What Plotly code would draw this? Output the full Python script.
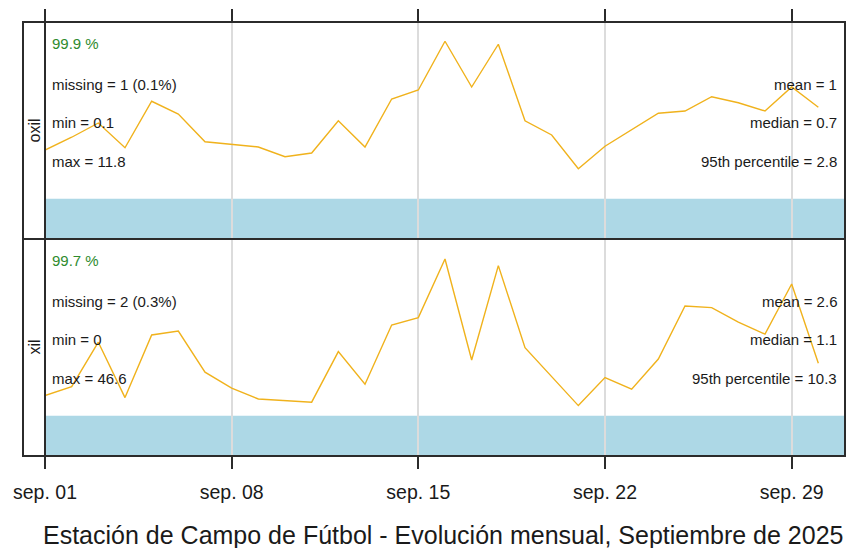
import pandas as pd
import plotly.graph_objects as go

dates = pd.date_range("2025-09-01", "2025-09-30", freq="D")

oxil = [0.74, 0.91, 1.10, 0.77, 1.39, 1.22, 0.85, 0.81, 0.78, 0.65,
        0.70, 1.13, 0.78, 1.42, 1.54, 2.19, 1.58, 2.15, 1.13, 0.94,
        0.49, 0.79, 1.01, 1.23, 1.26, 1.45, 1.37, 1.26, 1.58, 1.31]
xil = [1.22, 1.67, 3.89, 1.12, 4.25, 4.45, 2.39, 1.59, 1.05, 0.97,
       0.89, 3.42, 1.79, 4.75, 5.12, 8.05, 3.00, 7.72, 3.62, 2.17,
       0.72, 2.12, 1.54, 3.05, 5.70, 5.62, 4.89, 4.29, 6.80, 2.84]

panels = ["oxil", "xil"]
capture = ["99.9 %", "99.7 %"]
left_stats = [["missing = 1 (0.1%)", "min = 0.1", "max = 11.8"],
              ["missing = 2 (0.3%)", "min = 0", "max = 46.6"]]
right_stats = [["mean = 1", "median = 0.7", "95th percentile = 2.8"],
               ["mean = 2.6", "median = 1.1", "95th percentile = 10.3"]]

tick_dates = ["2025-09-01", "2025-09-08", "2025-09-15", "2025-09-22", "2025-09-29"]
tick_text = ["sep. 01", "sep. 08", "sep. 15", "sep. 22", "sep. 29"]
title = "Estación de Campo de Fútbol - Evolución mensual, Septiembre de 2025"

FONT = "Liberation Sans, Arial, sans-serif"
LINE = "#F0B21C"
BAR = "#ADD8E6"
FRAME = "#2b2b2b"
GREEN = "#2E8B2E"
TXT = "#1a1a1a"

fig = go.Figure()
fig.add_trace(go.Scatter(x=dates, y=oxil, mode="lines", line=dict(color=LINE, width=1.4),
                         xaxis="x", yaxis="y", showlegend=False, hoverinfo="skip"))
fig.add_trace(go.Scatter(x=dates, y=xil, mode="lines", line=dict(color=LINE, width=1.4),
                         xaxis="x2", yaxis="y2", showlegend=False, hoverinfo="skip"))

xcommon = dict(type="date", range=["2025-09-01", "2025-10-01"], tickvals=tick_dates,
               ticktext=tick_text, showgrid=True, gridcolor="#dcdcdc", gridwidth=1.5,
               ticks="outside", ticklen=12, tickwidth=1.5, tickcolor=FRAME,
               zeroline=False, showline=False)
fig.update_layout(
    width=854, height=549,
    margin=dict(l=45, r=9, t=22, b=93),
    paper_bgcolor="white", plot_bgcolor="white",
    font=dict(family=FONT, color=TXT),
    xaxis=dict(**xcommon, domain=[0, 1], anchor="y", side="top", showticklabels=False),
    xaxis2=dict(**xcommon, domain=[0, 1], anchor="y2", matches="x", showticklabels=True,
                tickfont=dict(size=19.5, color=TXT), ticklabelstandoff=7),
    yaxis=dict(domain=[0.5, 1], range=[-0.4467, 2.4467], showgrid=False, showticklabels=False,
               ticks="", zeroline=False, anchor="x"),
    yaxis2=dict(domain=[0, 0.5], range=[-1.8, 9.05], showgrid=False, showticklabels=False,
                ticks="", zeroline=False, anchor="x2"),
)

shapes = []
annotations = []
for i, (xr, yr) in enumerate([("x", "y"), ("x2", "y2")]):
    shapes.append(dict(type="rect", xref=xr, yref=f"{yr} domain", x0=dates[0],
                       x1="2025-10-01", y0=0, y1=0.185, fillcolor=BAR, line=dict(width=0),
                       layer="below"))
    annotations.append(dict(xref=f"{xr} domain", yref=f"{yr} domain", x=0.006, y=0.9,
                            text=capture[i], showarrow=False, xanchor="left", yanchor="middle",
                            font=dict(size=15, color=GREEN)))
    for t, yy in zip(left_stats[i], [0.714, 0.535, 0.355]):
        annotations.append(dict(xref=f"{xr} domain", yref=f"{yr} domain", x=0.006, y=yy,
                                text=t, showarrow=False, xanchor="left", yanchor="middle",
                                font=dict(size=15)))
    for t, yy in zip(right_stats[i], [0.714, 0.535, 0.355]):
        annotations.append(dict(xref=f"{xr} domain", yref=f"{yr} domain", x=0.9925, y=yy,
                                text=t, showarrow=False, xanchor="right", yanchor="middle",
                                font=dict(size=15)))
    annotations.append(dict(xref="paper", yref="paper", x=-0.01375, y=0.75 - 0.5 * i,
                            text=panels[i], showarrow=False, textangle=-90,
                            xanchor="center", yanchor="middle", font=dict(size=16)))

# frame
fx0 = -0.0275
shapes.append(dict(type="rect", xref="paper", yref="paper", x0=fx0, x1=1, y0=0, y1=1,
                   line=dict(color=FRAME, width=2)))
shapes.append(dict(type="line", xref="paper", yref="paper", x0=0, x1=0, y0=0, y1=1,
                   line=dict(color=FRAME, width=2)))
shapes.append(dict(type="line", xref="paper", yref="paper", x0=fx0, x1=1, y0=0.5, y1=0.5,
                   line=dict(color=FRAME, width=2)))

annotations.append(dict(xref="paper", yref="paper", x=0.4975, y=-0.182, text=title,
                        showarrow=False, xanchor="center", yanchor="middle",
                        height=27, borderpad=0, valign="middle",
                        font=dict(size=25, color=TXT)))

fig.update_layout(shapes=shapes, annotations=annotations)
fig.write_html("out.html", config={"displayModeBar": False},
               post_script="document.body.style.margin='0';")
